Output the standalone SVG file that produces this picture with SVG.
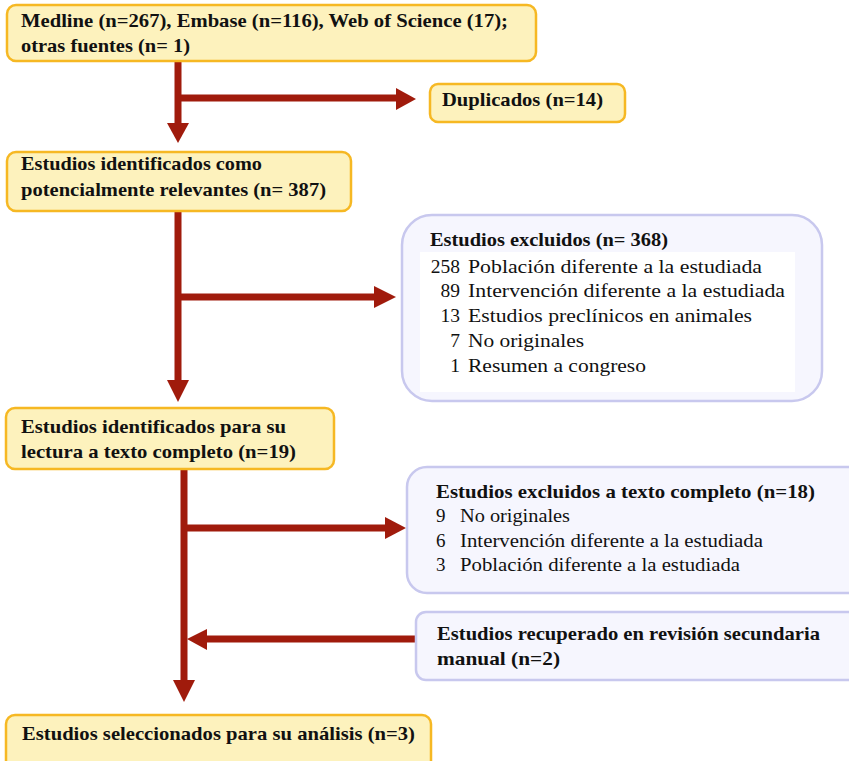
<svg xmlns="http://www.w3.org/2000/svg" width="849" height="761" viewBox="0 0 849 761">
<rect width="849" height="761" fill="#fff"/>
<g id="connectors">
<g fill="none" stroke="#a01b0c" stroke-width="7">
<path d="M178 61V124M178 98H398"/>
<path d="M178 212V381M178 297H376"/>
<path d="M184 470V681M184 528H387M417 639H205"/>
</g>
<g fill="#a01b0c">
<polygon points="167,123 189,123 178,143"/>
<polygon points="396,88 396,110 416,99"/>
<polygon points="167,380 189,380 178,402"/>
<polygon points="374,286 374,308 396,297"/>
<polygon points="173,680 195,680 184,702"/>
<polygon points="385,517 385,539 406,528"/>
<polygon points="207,629 207,650 187,639"/>
</g>
</g>
<g font-family="Liberation Serif" font-size="19" fill="#111">
<g id="n1">
<rect fill="#fdf2bd" stroke="#f6b823" stroke-width="2.5" x="7" y="5" width="529" height="56" rx="9"/>
<text font-family="Liberation Serif" font-weight="bold" x="21" y="27" textLength="487" lengthAdjust="spacingAndGlyphs">Medline (n=267), Embase (n=116), Web of Science (17);</text>
<text font-family="Liberation Serif" font-weight="bold" x="21" y="52" textLength="169" lengthAdjust="spacingAndGlyphs">otras fuentes (n= 1)</text>
</g>
<g id="n2">
<rect fill="#fdf2bd" stroke="#f6b823" stroke-width="2.5" x="430" y="84" width="195" height="38" rx="8"/>
<text font-family="Liberation Serif" font-weight="bold" x="442" y="106" textLength="161" lengthAdjust="spacingAndGlyphs">Duplicados (n=14)</text>
</g>
<g id="n3">
<rect fill="#fdf2bd" stroke="#f6b823" stroke-width="2.5" x="7" y="152" width="344" height="59" rx="9"/>
<text font-family="Liberation Serif" font-weight="bold" x="21" y="170" textLength="241" lengthAdjust="spacingAndGlyphs">Estudios identificados como</text>
<text font-family="Liberation Serif" font-weight="bold" x="21" y="196" textLength="305" lengthAdjust="spacingAndGlyphs">potencialmente  relevantes (n= 387)</text>
</g>
<g id="n4">
<rect fill="#f6f6fe" stroke="#c8c8ee" stroke-width="2.5" x="402" y="215" width="420" height="186" rx="30"/>
<rect x="420" y="252" width="375" height="140" fill="#fff"/>
<text font-family="Liberation Serif" font-weight="bold" x="430" y="246" textLength="238" lengthAdjust="spacingAndGlyphs">Estudios excluidos (n= 368)</text>
<text font-family="Liberation Serif" font-size="19.5" x="460" y="273" text-anchor="end">258</text>
<text font-family="Liberation Serif" font-size="19.5" x="468" y="273" textLength="294" lengthAdjust="spacingAndGlyphs">Población diferente a la estudiada</text>
<text font-family="Liberation Serif" font-size="19.5" x="460" y="297" text-anchor="end">89</text>
<text font-family="Liberation Serif" font-size="19.5" x="468" y="297" textLength="317" lengthAdjust="spacingAndGlyphs">Intervención diferente a la estudiada</text>
<text font-family="Liberation Serif" font-size="19.5" x="460" y="322" text-anchor="end">13</text>
<text font-family="Liberation Serif" font-size="19.5" x="468" y="322" textLength="284" lengthAdjust="spacingAndGlyphs">Estudios preclínicos en animales</text>
<text font-family="Liberation Serif" font-size="19.5" x="460" y="347" text-anchor="end">7</text>
<text font-family="Liberation Serif" font-size="19.5" x="468" y="347" textLength="116" lengthAdjust="spacingAndGlyphs">No originales</text>
<text font-family="Liberation Serif" font-size="19.5" x="460" y="372" text-anchor="end">1</text>
<text font-family="Liberation Serif" font-size="19.5" x="468" y="372" textLength="178" lengthAdjust="spacingAndGlyphs">Resumen a congreso</text>
</g>
<g id="n5">
<rect fill="#fdf2bd" stroke="#f6b823" stroke-width="2.5" x="6" y="408" width="328" height="61" rx="9"/>
<text font-family="Liberation Serif" font-weight="bold" x="21" y="433" textLength="265" lengthAdjust="spacingAndGlyphs">Estudios identificados para su</text>
<text font-family="Liberation Serif" font-weight="bold" x="21" y="458" textLength="275" lengthAdjust="spacingAndGlyphs">lectura a texto completo (n=19)</text>
</g>
<g id="n6">
<rect fill="#f6f6fe" stroke="#c8c8ee" stroke-width="2.5" x="407" y="467" width="460" height="126" rx="20"/>
<text font-family="Liberation Serif" font-weight="bold" x="436" y="498" textLength="379" lengthAdjust="spacingAndGlyphs">Estudios excluidos a texto completo  (n=18)</text>
<text font-family="Liberation Serif" x="436" y="522">9</text>
<text font-family="Liberation Serif" x="460" y="522" textLength="110" lengthAdjust="spacingAndGlyphs">No originales</text>
<text font-family="Liberation Serif" x="436" y="547">6</text>
<text font-family="Liberation Serif" x="460" y="547" textLength="303" lengthAdjust="spacingAndGlyphs">Intervención diferente a la estudiada</text>
<text font-family="Liberation Serif" x="436" y="571">3</text>
<text font-family="Liberation Serif" x="460" y="571" textLength="280" lengthAdjust="spacingAndGlyphs">Población diferente a la estudiada</text>
</g>
<g id="n7">
<rect fill="#f6f6fe" stroke="#c8c8ee" stroke-width="2.5" x="416" y="612" width="450" height="68" rx="10"/>
<text font-family="Liberation Serif" font-weight="bold" x="437" y="640" textLength="383" lengthAdjust="spacingAndGlyphs">Estudios recuperado en revisión secundaria</text>
<text font-family="Liberation Serif" font-weight="bold" x="437" y="665" textLength="123" lengthAdjust="spacingAndGlyphs">manual  (n=2)</text>
</g>
<g id="n8">
<rect fill="#fdf2bd" stroke="#f6b823" stroke-width="2.5" x="6" y="715" width="425" height="60" rx="9"/>
<text font-family="Liberation Serif" font-weight="bold" x="22" y="740" textLength="393" lengthAdjust="spacingAndGlyphs">Estudios seleccionados para su análisis (n=3)</text>
</g>
</g>
</svg>
